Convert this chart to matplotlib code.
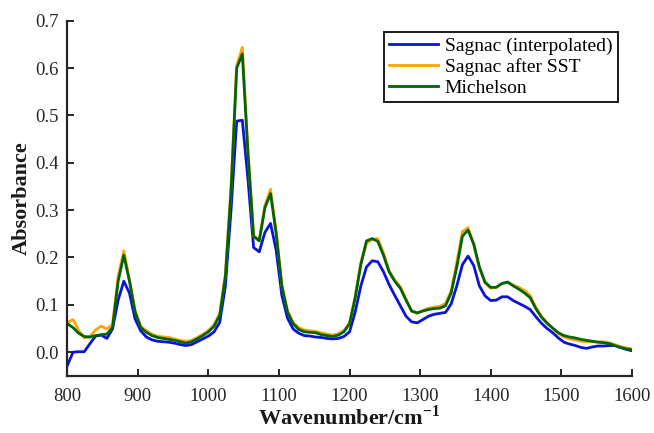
import matplotlib
matplotlib.use("Agg")
import matplotlib.pyplot as plt
from matplotlib.ticker import FormatStrFormatter

plt.rcParams['font.family'] = ['Liberation Serif', 'DejaVu Serif']
plt.rcParams['mathtext.fontset'] = 'custom'
plt.rcParams['mathtext.rm'] = 'Liberation Serif'
plt.rcParams['mathtext.bf'] = 'Liberation Serif:bold'

wavenumber = [800, 808, 816, 824, 832, 840, 848, 856, 864, 872, 880, 888, 896, 904, 912,
              920, 928, 936, 944, 952, 960, 968, 976, 984, 992, 1000, 1008, 1016, 1024,
              1032, 1040, 1048, 1056, 1064, 1072, 1080, 1088, 1096, 1104, 1112, 1120, 1128,
              1136, 1144, 1152, 1160, 1168, 1176, 1184, 1192, 1200, 1208, 1216, 1224, 1232,
              1240, 1248, 1256, 1264, 1272, 1280, 1288, 1296, 1304, 1312, 1320, 1328, 1336,
              1344, 1352, 1360, 1368, 1376, 1384, 1392, 1400, 1408, 1416, 1424, 1432, 1440,
              1448, 1456, 1464, 1472, 1480, 1488, 1496, 1504, 1512, 1520, 1528, 1536, 1544,
              1552, 1560, 1568, 1576, 1584, 1592, 1600]

sagnac_interp = [-0.028, 0.000, 0.001, 0.001, 0.018, 0.034, 0.036, 0.029, 0.049, 0.110,
                 0.150, 0.125, 0.070, 0.045, 0.032, 0.026, 0.023, 0.022, 0.021, 0.019,
                 0.016, 0.014, 0.016, 0.022, 0.028, 0.034, 0.043, 0.063, 0.140, 0.300,
                 0.488, 0.490, 0.365, 0.221, 0.212, 0.253, 0.272, 0.215, 0.120, 0.072,
                 0.049, 0.040, 0.035, 0.034, 0.032, 0.031, 0.029, 0.028, 0.029, 0.033,
                 0.043, 0.085, 0.140, 0.180, 0.193, 0.191, 0.170, 0.143, 0.120, 0.098,
                 0.076, 0.064, 0.062, 0.069, 0.076, 0.080, 0.082, 0.084, 0.102, 0.140,
                 0.185, 0.203, 0.183, 0.140, 0.119, 0.109, 0.110, 0.117, 0.117, 0.109,
                 0.103, 0.097, 0.090, 0.075, 0.061, 0.050, 0.041, 0.030, 0.021, 0.017,
                 0.014, 0.010, 0.008, 0.011, 0.013, 0.013, 0.014, 0.014, 0.010, 0.006,
                 0.003]

sagnac_sst = [0.062, 0.069, 0.046, 0.030, 0.033, 0.047, 0.055, 0.049, 0.058, 0.160,
              0.214, 0.155, 0.088, 0.055, 0.045, 0.038, 0.034, 0.032, 0.031, 0.028,
              0.025, 0.023, 0.025, 0.031, 0.038, 0.046, 0.058, 0.082, 0.165, 0.350,
              0.605, 0.644, 0.425, 0.245, 0.238, 0.310, 0.344, 0.255, 0.142, 0.088,
              0.063, 0.052, 0.047, 0.045, 0.044, 0.041, 0.038, 0.036, 0.039, 0.046,
              0.062, 0.118, 0.190, 0.230, 0.238, 0.240, 0.210, 0.172, 0.152, 0.138,
              0.112, 0.086, 0.082, 0.088, 0.093, 0.095, 0.097, 0.103, 0.130, 0.190,
              0.255, 0.263, 0.228, 0.178, 0.146, 0.135, 0.137, 0.145, 0.148, 0.142,
              0.137, 0.130, 0.120, 0.095, 0.076, 0.062, 0.050, 0.039, 0.032, 0.028,
              0.026, 0.023, 0.022, 0.022, 0.022, 0.022, 0.020, 0.016, 0.012, 0.009,
              0.007]

michelson = [0.060, 0.052, 0.040, 0.033, 0.032, 0.035, 0.037, 0.038, 0.052, 0.150,
             0.205, 0.150, 0.085, 0.052, 0.042, 0.035, 0.031, 0.029, 0.027, 0.025,
             0.022, 0.019, 0.022, 0.028, 0.035, 0.043, 0.055, 0.078, 0.160, 0.340,
             0.600, 0.630, 0.420, 0.245, 0.235, 0.305, 0.335, 0.250, 0.140, 0.085,
             0.060, 0.048, 0.043, 0.042, 0.041, 0.037, 0.035, 0.033, 0.036, 0.043,
             0.060, 0.115, 0.185, 0.235, 0.240, 0.234, 0.205, 0.170, 0.150, 0.135,
             0.110, 0.087, 0.083, 0.087, 0.090, 0.092, 0.093, 0.098, 0.125, 0.180,
             0.245, 0.258, 0.228, 0.180, 0.148, 0.137, 0.137, 0.145, 0.148, 0.140,
             0.133, 0.125, 0.115, 0.092, 0.074, 0.061, 0.051, 0.041, 0.035, 0.032,
             0.030, 0.027, 0.025, 0.023, 0.021, 0.020, 0.018, 0.014, 0.010, 0.007,
             0.005]

fig = plt.figure(figsize=(6.54, 4.33), dpi=100)
ax = fig.add_axes([0.103, 0.132, 0.863, 0.820])

ax.plot(wavenumber, sagnac_interp, color='#0a14d4', lw=2.0, label='Sagnac (interpolated)')
ax.plot(wavenumber, sagnac_sst, color='#ffa500', lw=2.0, label='Sagnac after SST')
ax.plot(wavenumber, michelson, color='#00640a', lw=2.0, label='Michelson')

ax.set_xlim(800, 1600)
ax.set_ylim(-0.05, 0.7)
ax.set_xticks(range(800, 1601, 100))
ax.set_yticks([0.0, 0.1, 0.2, 0.3, 0.4, 0.5, 0.6, 0.7])
ax.yaxis.set_major_formatter(FormatStrFormatter('%.1f'))

for s in ['top', 'right']:
    ax.spines[s].set_visible(False)
for s in ['left', 'bottom']:
    ax.spines[s].set_linewidth(1.6)
    ax.spines[s].set_color('#262626')
ax.tick_params(direction='in', length=5, width=1.4, color='#262626',
               labelsize=13.5, labelcolor='#262626')
ax.tick_params(axis='x', pad=9)
ax.tick_params(axis='y', pad=6)

ax.set_xlabel(r'Wavenumber/cm$^{\mathbf{-1}}$', fontsize=16, fontweight='bold',
              color='#1a1a1a', labelpad=0)
ax.set_ylabel('Absorbance', fontsize=16, fontweight='bold', color='#1a1a1a', labelpad=3)

leg = ax.legend(loc='upper right', bbox_to_anchor=(0.976, 0.969), borderaxespad=0,
                fontsize=14, fancybox=False, framealpha=1, edgecolor='#1a1a1a',
                handlelength=2.5, handletextpad=0.35, labelspacing=0.15, borderpad=0.3)
leg.get_frame().set_linewidth(1.4)

fig.savefig('out.png', dpi=100)
